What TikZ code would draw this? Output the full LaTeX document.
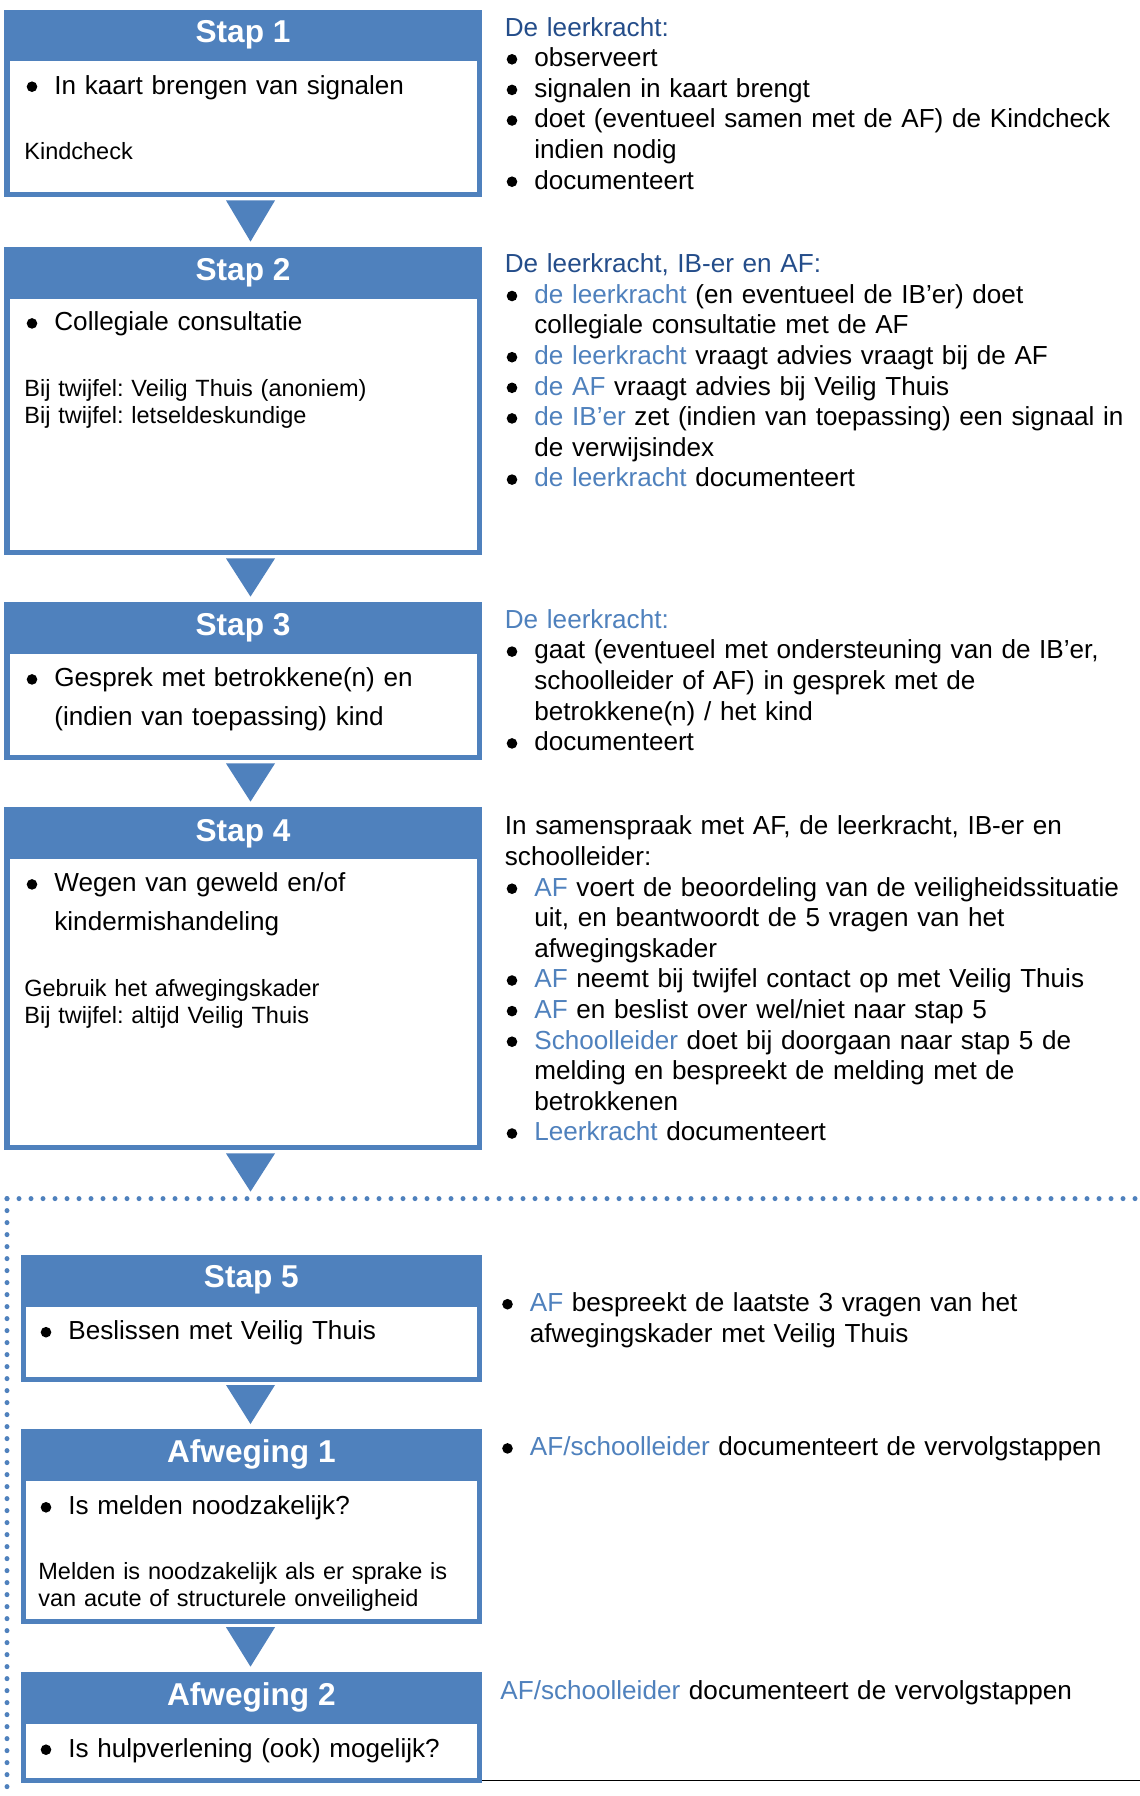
\documentclass[tikz,border=0pt]{standalone}
\usepackage{fontspec}
\setmainfont{Liberation Sans}
\usetikzlibrary{calc,fit}
\frenchspacing

\definecolor{stapblauw}{RGB}{79,129,189}
\definecolor{kopblauw}{RGB}{36,77,138}
\newcommand\wie[1]{\textcolor{stapblauw}{#1}}
\newcommand\inspring{\hspace*{14.75pt}}

\tikzset{
  stapvak/.style={fill=stapblauw, inner sep=0pt},
  kop/.style={anchor=base, text=white, font=\fontsize{15.8pt}{18pt}\selectfont\bfseries},
  tekst/.style={anchor=base west, inner sep=0pt, text width=320pt, align=left,
    font=\fontsize{13.05pt}{15.3pt}\selectfont},
  ruim/.style={tekst, font=\fontsize{13.05pt}{19.5pt}\selectfont},
  noot/.style={tekst, font=\fontsize{11.75pt}{13.6pt}\selectfont},
  punt/.style={fill=black},
  pijl/.style={fill=stapblauw},
  stippel/.style={stapblauw, line width=2.5pt, line cap=round, dash pattern=on 0pt off 6pt},
}

\begin{document}
\begin{tikzpicture}[x=0.5pt,y=-0.5pt]
    \useasboundingbox[fill=white] (0,0) rectangle (1140,1796);

    % vakken
    \node[stapvak, fit={(4,9.5) (482,197)}] (s1) {};
    \node[stapvak, fit={(4,247) (482,555)}] (s2) {};
    \node[stapvak, fit={(4,602) (482,760)}] (s3) {};
    \node[stapvak, fit={(4,807) (482,1150)}] (s4) {};
    \node[stapvak, fit={(20.7,1255) (482,1381.6)}] (s5) {};
    \node[stapvak, fit={(20.7,1429.4) (482,1623.8)}] (a1) {};
    \node[stapvak, fit={(20.7,1672) (482,1782.5)}] (a2) {};
    \foreach \v in {s1,s2,s3,s4,s5,a1,a2}
        \fill[white] ($(\v.south west)+(6,-5)$) rectangle ($(\v.north east)+(-5,52)$);

    \node[kop] (k1) at ($(s1.north)+(0,33.5)$) {Stap 1};
    \node[kop] (k2) at ($(s2.north)+(0,33.5)$) {Stap 2};
    \node[kop] (k3) at ($(s3.north)+(0,33.5)$) {Stap 3};
    \node[kop] (k4) at ($(s4.north)+(0,34.5)$) {Stap 4};
    \node[kop] (k5) at ($(s5.north)+(0,32.5)$) {Stap 5};
    \node[kop] (k6) at ($(a1.north)+(0,33.5)$) {Afweging 1};
    \node[kop] (k7) at ($(a2.north)+(0,34)$) {Afweging 2};

    % pijlen en grens
    \coordinate (as) at (250.5,0);
    \coordinate (grens) at (7,1198.6);
    \coordinate (rand) at (1140,1780.4);
    \foreach \van/\naar in {s1/s2,s2/s3,s3/s4,s5/a1,a1/a2}
        \fill[pijl] ($(as |- \van.south)+(-24.5,3)$) -- ($(as |- \van.south)+(24.5,3)$)
            -- ($(as |- \naar.north)+(0,-5)$) -- cycle;
    \fill[pijl] ($(as |- s4.south)+(-24.5,3)$) -- ($(as |- s4.south)+(24.5,3)$)
        -- ($(as |- grens)+(0,-7)$) -- cycle;
    \draw[stippel] (grens) -- (7,1796);
    \draw[stippel] (grens) -- (1140,1198.6);
    \draw[line width=0.8pt] (a2.south east |- rand) -- (rand);

    % tekst in de vakken
    \node[tekst] (b1) at (24.5,94) {\inspring In kaart brengen van signalen};
    \node[noot] (n1) at (24,159) {Kindcheck};
    \node[tekst] (b2) at (24.5,330.7) {\inspring Collegiale consultatie};
    \node[noot] (n2) at (24,396) {Bij twijfel: Veilig Thuis (anoniem)\\Bij twijfel: letseldeskundige};
    \node[ruim] (b3) at (24.5,686.7) {\inspring Gesprek met betrokkene(n) en\\\inspring (indien van toepassing) kind};
    \node[ruim] (b4) at (24.5,891.7) {\inspring Wegen van geweld en/of\\\inspring kindermishandeling};
    \node[noot] (n4) at (24,996.7) {Gebruik het afwegingskader\\Bij twijfel: altijd Veilig Thuis};
    \node[tekst] (b5) at (38.5,1339.5) {\inspring Beslissen met Veilig Thuis};
    \node[tekst] (b6) at (38.5,1514.6) {\inspring Is melden noodzakelijk?};
    \node[noot] (n6) at (38,1579.7) {Melden is noodzakelijk als er sprake is\\van acute of structurele onveiligheid};
    \node[tekst] (b7) at (38.5,1757) {\inspring Is hulpverlening (ook) mogelijk?};
    \foreach \t in {b1,b2,b3,b4,b5,b6,b7}
        \fill[punt] ($(\t.base west)+(7.5,-7.3)$) circle[radius=2.65pt];

    % wie doet wat
    \node[tekst] (r1) at (504.5,36) {\textcolor{kopblauw}{De leerkracht:}\\
        \inspring observeert\\
        \inspring signalen in kaart brengt\\
        \inspring doet (eventueel samen met de AF) de Kindcheck\\
        \inspring indien nodig\\
        \inspring documenteert};
    \node[tekst] (r2) at (504.5,272.7) {\textcolor{kopblauw}{De leerkracht, IB-er en AF:}\\
        \inspring\wie{de leerkracht} (en eventueel de IB’er) doet\\
        \inspring collegiale consultatie met de AF\\
        \inspring\wie{de leerkracht} vraagt advies vraagt bij de AF\\
        \inspring\wie{de AF} vraagt advies bij Veilig Thuis\\
        \inspring\wie{de IB’er} zet (indien van toepassing) een signaal in\\
        \inspring de verwijsindex\\
        \inspring\wie{de leerkracht} documenteert};
    \node[tekst] (r3) at (504.5,628.3) {\wie{De leerkracht:}\\
        \inspring gaat (eventueel met ondersteuning van de IB’er,\\
        \inspring schoolleider of AF) in gesprek met de\\
        \inspring betrokkene(n) / het kind\\
        \inspring documenteert};
    \node[tekst] (r4) at (504.5,834.8) {In samenspraak met AF, de leerkracht, IB-er en\\
        schoolleider:\\
        \inspring\wie{AF} voert de beoordeling van de veiligheidssituatie\\
        \inspring uit, en beantwoordt de 5 vragen van het\\
        \inspring afwegingskader\\
        \inspring\wie{AF} neemt bij twijfel contact op met Veilig Thuis\\
        \inspring\wie{AF} en beslist over wel/niet naar stap 5\\
        \inspring\wie{Schoolleider} doet bij doorgaan naar stap 5 de\\
        \inspring melding en bespreekt de melding met de\\
        \inspring betrokkenen\\
        \inspring\wie{Leerkracht} documenteert};
    \node[tekst] (r5) at (500,1311.5) {\inspring\wie{AF} bespreekt de laatste 3 vragen van het\\
        \inspring afwegingskader met Veilig Thuis};
    \node[tekst] (r6) at (500,1455.7) {\inspring\wie{AF/schoolleider} documenteert de vervolgstappen};
    \node[tekst] (r7) at (500,1699) {\wie{AF/schoolleider} documenteert de vervolgstappen};
    \foreach \n in {1,2,3,5}
        \fill[punt] ($(r1.base west)+(7.5,\n*30.6-7.3)$) circle[radius=2.65pt];
    \foreach \n in {1,3,4,5,7}
        \fill[punt] ($(r2.base west)+(7.5,\n*30.6-7.3)$) circle[radius=2.65pt];
    \foreach \n in {1,4}
        \fill[punt] ($(r3.base west)+(7.5,\n*30.6-7.3)$) circle[radius=2.65pt];
    \foreach \n in {2,5,6,7,10}
        \fill[punt] ($(r4.base west)+(7.5,\n*30.6-7.3)$) circle[radius=2.65pt];
    \foreach \t in {r5,r6}
        \fill[punt] ($(\t.base west)+(7.5,-7.3)$) circle[radius=2.65pt];
\end{tikzpicture}
\end{document}
